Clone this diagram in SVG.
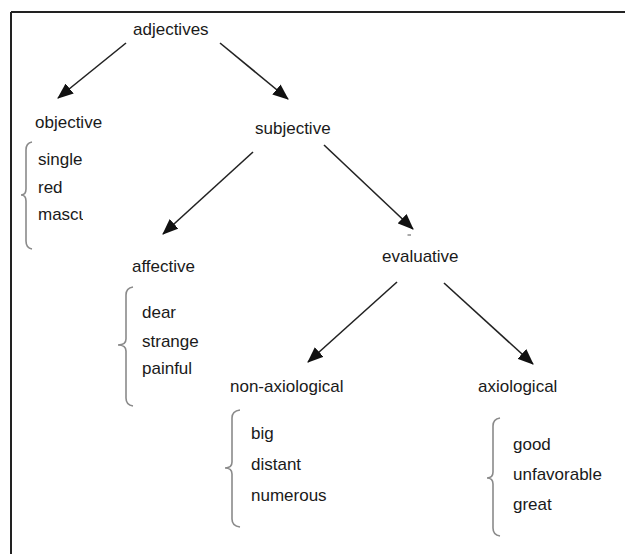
<svg xmlns="http://www.w3.org/2000/svg" width="625" height="554" viewBox="0 0 625 554">
<style>
text{font-family:"Liberation Sans",Arial,sans-serif;font-size:17px;fill:#1a1a1a}
.arrow{stroke:#222;stroke-width:1.6;fill:none;marker-end:url(#ah)}
.brace{stroke:#8a8a8a;stroke-width:1.6;fill:none}
.frame{stroke:#222;stroke-width:2;fill:none}
</style>
<defs>
<marker id="ah" markerUnits="userSpaceOnUse" markerWidth="16" markerHeight="13" refX="15" refY="6.5" orient="auto">
<path d="M0,0 L16,6.5 L0,13 z" fill="#111"/>
</marker>
<clipPath id="clipM"><rect x="0" y="200" width="83" height="30"/></clipPath>
</defs>
<rect width="625" height="554" fill="#fff"/>
<g id="frame">
<path class="frame" d="M11,12 H625 M11,12 V554"/>
</g>
<g id="connectors">
<line class="arrow" x1="126" y1="43" x2="58" y2="98"/>
<line class="arrow" x1="220" y1="43" x2="288" y2="99"/>
<line class="arrow" x1="253" y1="152" x2="163" y2="234"/>
<line class="arrow" x1="324" y1="145" x2="413" y2="229"/>
<line class="arrow" x1="397" y1="282" x2="308" y2="362"/>
<line class="arrow" x1="444" y1="283" x2="533" y2="364"/>
<line x1="407.5" y1="235" x2="411" y2="235" stroke="#555" stroke-width="1"/>
</g>
<g id="adjectives"><text x="133" y="35">adjectives</text></g>
<g id="objective">
<text x="35" y="128">objective</text>
<path class="brace" d="M32,142 Q26,143 26,150 L26,189 Q26,195 21,195 Q26,195 26,201 L26,241 Q26,248 32,249"/>
<text x="38" y="165">single</text>
<text x="38" y="193">red</text>
<text x="38" y="220" clip-path="url(#clipM)">mascu</text>
</g>
<g id="subjective"><text x="255" y="134">subjective</text></g>
<g id="affective">
<text x="132" y="272">affective</text>
<path class="brace" d="M133,287 Q126,288 126,295 L126,339 Q126,345 118,345 Q126,345 126,351 L126,398 Q126,405 133,406"/>
<text x="142" y="318">dear</text>
<text x="142" y="347">strange</text>
<text x="142" y="374">painful</text>
</g>
<g id="evaluative"><text x="382" y="262">evaluative</text></g>
<g id="non-axiological">
<text x="230" y="392">non-axiological</text>
<path class="brace" d="M240,410 Q232,411 232,418 L232,462 Q232,468 225,468 Q232,468 232,474 L232,519 Q232,526 240,527"/>
<text x="251" y="439">big</text>
<text x="251" y="470">distant</text>
<text x="251" y="501">numerous</text>
</g>
<g id="axiological">
<text x="478" y="392">axiological</text>
<path class="brace" d="M500,418 Q493,419 493,426 L493,472 Q493,478 487,478 Q493,478 493,484 L493,528 Q493,535 500,536"/>
<text x="513" y="450">good</text>
<text x="513" y="480">unfavorable</text>
<text x="513" y="510">great</text>
</g>
</svg>
